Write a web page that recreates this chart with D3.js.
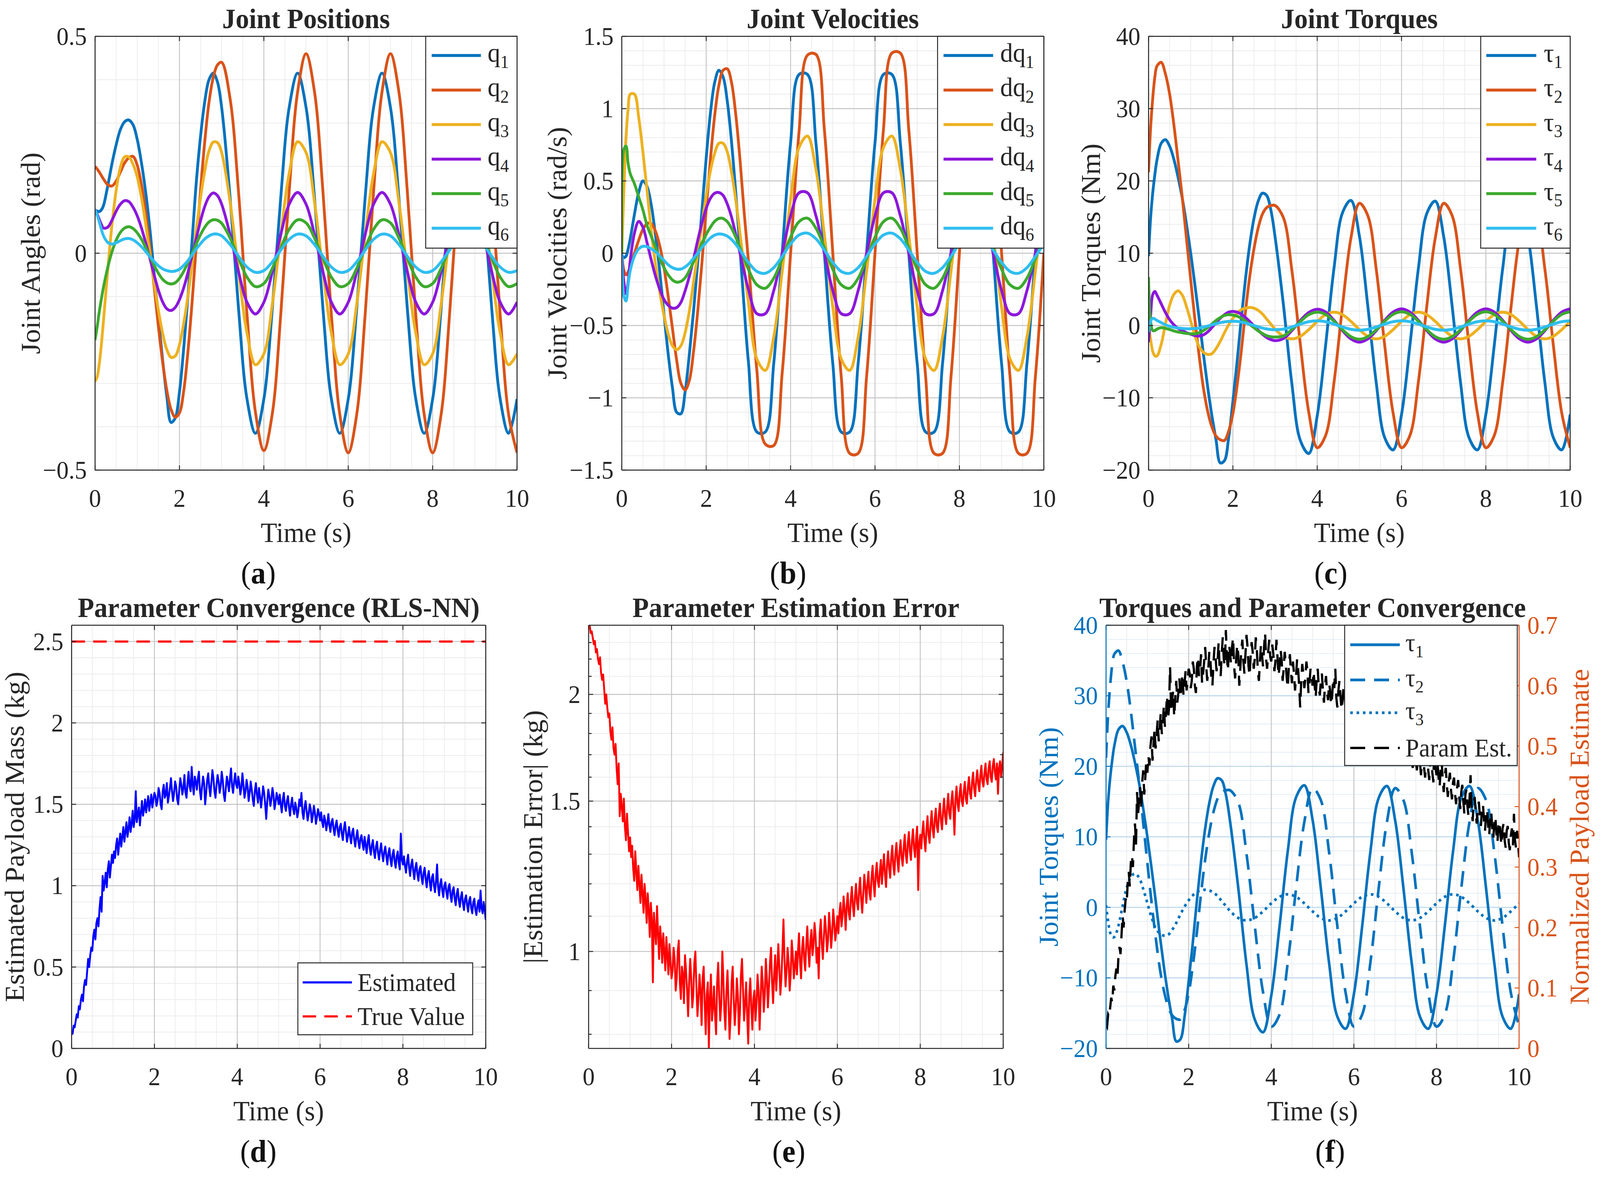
<!DOCTYPE html>
<html><head><meta charset="utf-8">
<script src="https://cdn.jsdelivr.net/npm/d3@7"></script>
<style>html,body{margin:0;padding:0;background:#fff;overflow:hidden;width:100%;height:100%}svg{display:block;width:100vw;height:100vh}</style>
</head><body>
<svg id="chart" viewBox="0 0 4292 3012" preserveAspectRatio="none"></svg>
<script>
// ---------------- DATA ----------------
const T = [0,0.05,0.1,0.15,0.2,0.3,0.4,0.5,0.6,0.7,0.8,0.9,1.0,1.1,1.2,1.3,1.4,1.5,1.6,1.7,1.8,1.9,2.0,2.1,2.2,2.3,2.4,2.5,2.6,2.7,2.8,2.9,3.0,
3.2,3.4,3.6,3.8,4.0,4.2,4.4,4.6,4.8,5.0,5.2,5.4,5.6,5.8,6.0,6.2,6.4,6.6,6.8,7.0,7.2,7.4,7.6,7.8,8.0,8.2,8.4,8.6,8.8,9.0,9.2,9.4,9.6,9.8,10.0];

const Q1 = [0.100,0.097,0.096,0.100,0.110,0.155,0.206,0.250,0.285,0.303,0.307,0.296,0.262,0.208,0.140,0.055,-0.048,-0.150,-0.245,-0.330,-0.390,-0.380,-0.320,-0.220,-0.100,0.030,0.165,0.270,0.350,0.400,0.415,0.395,0.336,
0.128,-0.128,-0.336,-0.415,-0.336,-0.128,0.128,0.336,0.415,0.336,
0.128,-0.128,-0.336,-0.415,-0.336,-0.128,0.128,0.336,0.415,0.336,
0.128,-0.128,-0.336,-0.415,-0.336,-0.128,0.128,0.336,0.415,0.336,
0.128,-0.128,-0.336,-0.415,-0.336];
const Q2 = [0.200,0.194,0.187,0.179,0.171,0.158,0.155,0.166,0.187,0.208,0.220,0.223,0.203,0.158,0.093,0.013,-0.077,-0.168,-0.250,-0.316,-0.360,-0.378,-0.368,-0.318,-0.228,-0.112,0.020,0.145,0.258,0.348,0.405,0.434,0.440,
0.356,0.141,-0.140,-0.366,-0.455,-0.370,-0.142,0.142,0.372,0.460,
0.372,0.142,-0.142,-0.372,-0.460,-0.372,-0.142,0.142,0.372,0.460,
0.372,0.142,-0.142,-0.372,-0.460,-0.372,-0.142,0.142,0.372,0.460,
0.372,0.142,-0.142,-0.372,-0.460];
const Q3 = [-0.296,-0.285,-0.255,-0.210,-0.155,-0.040,0.065,0.145,0.198,0.222,0.222,0.205,0.176,0.128,0.067,-0.001,-0.069,-0.131,-0.184,-0.222,-0.240,-0.237,-0.211,-0.162,-0.099,-0.025,0.055,0.128,0.190,0.236,0.256,0.255,0.232,
0.118,-0.041,-0.184,-0.257,-0.232,-0.118,0.041,0.184,0.257,0.232,
0.118,-0.041,-0.184,-0.257,-0.232,-0.118,0.041,0.184,0.257,0.232,
0.118,-0.041,-0.184,-0.257,-0.232,-0.118,0.041,0.184,0.257,0.232,
0.118,-0.041,-0.184,-0.257,-0.232];
const Q4 = [0.100,0.090,0.078,0.066,0.058,0.060,0.076,0.097,0.113,0.121,0.119,0.106,0.086,0.058,0.024,-0.012,-0.050,-0.085,-0.112,-0.128,-0.132,-0.125,-0.107,-0.080,-0.045,-0.005,0.035,0.075,0.108,0.130,0.139,0.133,0.113,
0.043,-0.043,-0.113,-0.140,-0.113,-0.043,0.043,0.113,0.140,0.113,
0.043,-0.043,-0.113,-0.140,-0.113,-0.043,0.043,0.113,0.140,0.113,
0.043,-0.043,-0.113,-0.140,-0.113,-0.043,0.043,0.113,0.140,0.113,
0.043,-0.043,-0.113,-0.140,-0.113];
const Q5 = [-0.200,-0.170,-0.135,-0.105,-0.078,-0.033,0.003,0.030,0.048,0.058,0.061,0.057,0.047,0.032,0.013,-0.008,-0.028,-0.046,-0.060,-0.068,-0.071,-0.068,-0.058,-0.042,-0.022,0.000,0.022,0.043,0.060,0.072,0.077,0.076,0.069,
0.035,-0.012,-0.055,-0.077,-0.070,-0.035,0.012,0.055,0.077,0.070,
0.035,-0.012,-0.055,-0.077,-0.070,-0.035,0.012,0.055,0.077,0.070,
0.035,-0.012,-0.055,-0.077,-0.070,-0.035,0.012,0.055,0.077,0.070,
0.035,-0.012,-0.055,-0.077,-0.070];
const Q6 = [0.100,0.088,0.072,0.055,0.040,0.025,0.021,0.024,0.029,0.033,0.034,0.031,0.024,0.015,0.004,-0.008,-0.019,-0.029,-0.036,-0.040,-0.042,-0.041,-0.037,-0.028,-0.017,-0.004,0.010,0.022,0.033,0.040,0.044,0.044,0.040,
0.020,-0.007,-0.032,-0.044,-0.040,-0.020,0.007,0.032,0.044,0.040,
0.020,-0.007,-0.032,-0.044,-0.040,-0.020,0.007,0.032,0.044,0.040,
0.020,-0.007,-0.032,-0.044,-0.040,-0.020,0.007,0.032,0.044,0.040,
0.020,-0.007,-0.032,-0.044,-0.040];

const DQ1 = [-0.010,-0.030,-0.020,0.030,0.100,0.270,0.420,0.500,0.460,0.330,0.120,-0.130,-0.420,-0.700,-0.930,-1.100,-1.110,-0.960,-0.700,-0.400,-0.060,0.300,0.660,0.970,1.180,1.265,1.220,1.050,0.770,0.420,0.030,-0.380,-0.750,
-1.236,-1.236,-0.764,0,0.764,1.236,1.236,0.764,0,-0.764,
-1.236,-1.236,-0.764,0,0.764,1.236,1.236,0.764,0,-0.764,
-1.236,-1.236,-0.764,0,0.764,1.236,1.236,0.764,0,-0.764,
-1.236,-1.236,-0.764,0,0.764];
const DQ2 = [0.000,-0.120,-0.150,-0.130,-0.090,0.000,0.090,0.165,0.205,0.205,0.150,0.050,-0.100,-0.300,-0.520,-0.740,-0.900,-0.945,-0.880,-0.680,-0.400,-0.060,0.300,0.650,0.950,1.160,1.265,1.275,1.180,0.960,0.650,0.280,-0.050,
-0.810,-1.320,-1.330,-0.830,0,0.840,1.370,1.375,0.855,0,
-0.855,-1.384,-1.384,-0.855,0,0.855,1.384,1.384,0.855,0,
-0.855,-1.384,-1.384,-0.855,0,0.855,1.384,1.384,0.855,0,
-0.855,-1.384,-1.384,-0.855,0];
const DQ3 = [0.000,0.450,0.800,1.000,1.100,1.100,0.940,0.700,0.430,0.150,-0.080,-0.270,-0.430,-0.560,-0.640,-0.667,-0.640,-0.550,-0.400,-0.200,0.000,0.200,0.400,0.570,0.690,0.760,0.760,0.700,0.560,0.370,0.140,-0.100,-0.340,
-0.731,-0.810,-0.580,-0.128,0.372,0.731,0.810,0.580,0.128,-0.372,
-0.731,-0.810,-0.580,-0.128,0.372,0.731,0.810,0.580,0.128,-0.372,
-0.731,-0.810,-0.580,-0.128,0.372,0.731,0.810,0.580,0.128,-0.372,
-0.731,-0.810,-0.580,-0.128,0.372];
const DQ4 = [0.000,-0.200,-0.280,-0.200,-0.050,0.140,0.220,0.180,0.070,-0.050,-0.160,-0.250,-0.320,-0.360,-0.380,-0.376,-0.340,-0.260,-0.160,-0.040,0.090,0.210,0.310,0.380,0.415,0.420,0.400,0.340,0.250,0.130,0.000,-0.130,-0.250,
-0.418,-0.418,-0.259,0,0.259,0.418,0.418,0.259,0,-0.259,
-0.418,-0.418,-0.259,0,0.259,0.418,0.418,0.259,0,-0.259,
-0.418,-0.418,-0.259,0,0.259,0.418,0.418,0.259,0,-0.259,
-0.418,-0.418,-0.259,0,0.259];
const DQ5 = [0.000,0.720,0.740,0.620,0.550,0.480,0.390,0.300,0.190,0.115,0.040,-0.040,-0.100,-0.150,-0.185,-0.200,-0.195,-0.170,-0.120,-0.060,0.000,0.070,0.130,0.180,0.220,0.240,0.240,0.218,0.173,0.111,0.038,-0.038,-0.111,
-0.218,-0.242,-0.173,-0.038,0.111,0.218,0.242,0.173,0.038,-0.111,
-0.218,-0.242,-0.173,-0.038,0.111,0.218,0.242,0.173,0.038,-0.111,
-0.218,-0.242,-0.173,-0.038,0.111,0.218,0.242,0.173,0.038,-0.111,
-0.218,-0.242,-0.173,-0.038,0.111];
const DQ6 = [0.000,-0.300,-0.330,-0.220,-0.120,-0.020,0.030,0.048,0.045,0.030,0.010,-0.020,-0.050,-0.080,-0.100,-0.110,-0.110,-0.095,-0.070,-0.035,0.000,0.040,0.075,0.105,0.125,0.133,0.130,0.118,0.095,0.062,0.022,-0.022,-0.064,
-0.126,-0.139,-0.100,-0.022,0.064,0.126,0.139,0.100,0.022,-0.064,
-0.126,-0.139,-0.100,-0.022,0.064,0.126,0.139,0.100,0.022,-0.064,
-0.126,-0.139,-0.100,-0.022,0.064,0.126,0.139,0.100,0.022,-0.064,
-0.126,-0.139,-0.100,-0.022,0.064];

const TAU1 = [9.6,15.0,18.4,20.9,22.9,25.2,25.7,24.8,23.0,20.5,17.6,14.0,10.0,5.6,1.0,-3.9,-8.4,-12.4,-15.8,-19.0,-18.7,-15.5,-10.5,-5.0,1.0,6.5,11.2,14.8,17.2,18.3,18.0,16.0,12.3,
2.8,-8.1,-15.9,-17.7,-12.5,-2.7,8.0,15.6,17.3,12.4,
2.7,-7.9,-15.5,-17.2,-12.3,-2.7,7.9,15.5,17.2,12.3,
2.7,-7.9,-15.5,-17.2,-12.3,-2.7,7.9,15.5,17.2,12.3,
2.7,-7.9,-15.5,-17.2,-12.3];
const TAU2 = [21.2,27.5,31.5,34.4,35.9,36.4,34.8,32.0,27.8,22.8,17.7,12.0,6.3,0.8,-4.2,-8.6,-11.8,-14.0,-15.3,-15.8,-15.9,-14.6,-12.2,-8.3,-3.5,2.0,6.8,10.6,13.5,15.4,16.3,16.6,16.6,
14.9,7.6,-2.6,-12.0,-16.9,-15.2,-7.8,2.7,12.1,16.9,
15.2,7.8,-2.7,-12.1,-16.9,-15.2,-7.8,2.7,12.1,16.9,
15.2,7.8,-2.7,-12.1,-16.9,-15.2,-7.8,2.7,12.1,16.9,
15.2,7.8,-2.7,-12.1,-16.9];
const TAU3 = [0.3,-2.0,-3.6,-4.2,-4.2,-2.6,0.2,2.8,4.3,4.8,4.2,2.6,0.6,-1.4,-2.9,-3.7,-4.0,-3.9,-3.2,-2.2,-1.0,0.1,1.0,1.7,2.2,2.4,2.5,2.4,2.1,1.6,0.9,0.2,-0.5,
-1.5,-1.85,-1.5,-0.57,0.57,1.5,1.85,1.5,0.57,-0.57,
-1.5,-1.85,-1.5,-0.57,0.57,1.5,1.85,1.5,0.57,-0.57,
-1.5,-1.85,-1.5,-0.57,0.57,1.5,1.85,1.5,0.57,-0.57,
-1.5,-1.85,-1.5,-0.57,0.57];
const TAU4 = [-2.3,1.5,4.3,4.7,4.2,3.0,1.8,0.8,0.1,-0.4,-0.7,-1.0,-1.2,-1.4,-1.45,-1.3,-0.9,-0.3,0.4,1.0,1.5,1.85,1.95,1.85,1.55,1.1,0.55,-0.05,-0.65,-1.2,-1.65,-1.95,-2.1,
-1.8,-0.7,0.7,1.8,2.25,
1.86,0.71,-0.71,-1.86,-2.3,-1.86,-0.71,0.71,1.86,2.3,
1.86,0.71,-0.71,-1.86,-2.3,-1.86,-0.71,0.71,1.86,2.3,
1.86,0.71,-0.71,-1.86,-2.3,-1.86,-0.71,0.71,1.86,2.3];
const TAU5 = [6.7,0.5,-0.7,-0.7,-0.5,-0.3,-0.4,-0.55,-0.75,-0.9,-1.0,-1.1,-1.15,-1.15,-1.0,-0.7,-0.3,0.2,0.7,1.1,1.4,1.5,1.45,1.3,1.0,0.6,0.15,-0.3,-0.75,-1.1,-1.4,-1.55,-1.6,
-1.45,-0.55,0.55,1.5,1.85,
1.54,0.59,-0.59,-1.54,-1.9,-1.54,-0.59,0.59,1.54,1.9,
1.54,0.59,-0.59,-1.54,-1.9,-1.54,-0.59,0.59,1.54,1.9,
1.54,0.59,-0.59,-1.54,-1.9,-1.54,-0.59,0.59,1.54,1.9];
const TAU6 = [-0.9,0.6,1.0,0.9,0.7,0.4,0.1,-0.1,-0.25,-0.35,-0.4,-0.45,-0.45,-0.42,-0.35,-0.22,-0.08,0.1,0.25,0.4,0.5,0.57,0.6,0.57,0.48,0.35,0.18,0.0,-0.18,-0.35,-0.47,-0.55,-0.58,
-0.5,-0.2,0.2,0.53,0.65,
0.53,0.2,-0.2,-0.53,-0.65,-0.53,-0.2,0.2,0.53,0.65,
0.53,0.2,-0.2,-0.53,-0.65,-0.53,-0.2,0.2,0.53,0.65,
0.53,0.2,-0.2,-0.53,-0.65,-0.53,-0.2,0.2,0.53,0.65];

// estimated payload mass (kg), one sample every 0.025 s from 0 to 10 s
const EST_DT = 0.025;
const EST = [
0.10,0.09,0.14,0.13,0.17,0.21,0.19,0.26,0.24,0.30,0.33,0.29,0.38,0.42,0.39,0.47,0.55,0.50,0.57,0.62,0.60,0.69,0.73,0.67,0.77,0.80,0.75,0.86,0.93,0.84,1.06,0.97,1.02,1.08,0.99,1.10,1.15,1.05,1.12,1.19,1.14,
1.21,1.17,1.25,1.29,1.19,1.26,1.32,1.24,1.30,1.36,1.27,1.33,1.39,1.30,1.35,1.42,1.33,1.38,1.46,1.36,1.41,1.58,1.39,1.44,1.48,1.37,1.45,1.52,1.43,1.47,1.53,1.45,1.50,1.55,1.46,1.51,1.56,1.48,1.53,1.57,
1.55,1.49,1.52,1.60,1.57,1.50,1.47,1.58,1.62,1.54,1.56,1.63,1.51,1.55,1.60,1.66,1.58,1.52,1.57,1.64,1.61,1.53,1.50,1.59,1.66,1.62,1.56,1.60,1.68,1.57,1.54,1.63,1.70,1.61,1.58,1.73,1.62,1.56,1.67,1.64,
1.59,1.66,1.70,1.58,1.53,1.61,1.67,1.63,1.50,1.57,1.65,1.69,1.60,1.55,1.63,1.71,1.66,1.58,1.54,1.62,1.68,1.64,1.57,1.61,1.70,1.65,1.56,1.52,1.60,1.67,1.63,1.58,1.66,1.72,1.61,1.57,1.64,1.69,1.62,1.60,
1.67,1.63,1.56,1.60,1.69,1.62,1.54,1.58,1.65,1.61,1.52,1.57,1.64,1.59,1.53,1.49,1.58,1.63,1.56,1.51,1.60,1.55,1.48,1.54,1.61,1.57,1.50,1.41,1.52,1.59,1.55,1.49,1.53,1.60,1.56,1.47,1.51,1.57,1.54,1.50,
1.56,1.50,1.45,1.53,1.57,1.49,1.46,1.52,1.55,1.48,1.43,1.50,1.54,1.47,1.44,1.51,1.48,1.42,1.46,1.53,1.49,1.57,1.45,1.41,1.48,1.52,1.46,1.40,1.44,1.50,1.47,1.39,1.43,1.49,1.45,1.38,1.42,1.47,1.44,1.40,
1.45,1.39,1.36,1.43,1.40,1.34,1.38,1.44,1.37,1.33,1.39,1.41,1.35,1.31,1.37,1.40,1.34,1.30,1.36,1.38,1.32,1.28,1.35,1.39,1.33,1.27,1.31,1.36,1.30,1.26,1.33,1.35,1.28,1.24,1.30,1.34,1.27,1.23,1.29,1.31,
1.26,1.22,1.30,1.25,1.20,1.27,1.31,1.23,1.19,1.25,1.28,1.21,1.17,1.24,1.27,1.20,1.16,1.22,1.26,1.19,1.15,1.21,1.24,1.18,1.13,1.20,1.23,1.16,1.12,1.19,1.22,1.15,1.11,1.18,1.21,1.14,1.10,1.32,1.16,1.13,
1.18,1.12,1.08,1.15,1.19,1.11,1.06,1.13,1.16,1.09,1.04,1.11,1.14,1.07,1.03,1.10,1.12,1.05,1.01,1.08,1.11,1.04,0.99,1.06,1.09,1.02,0.97,1.05,1.07,1.00,0.96,1.03,1.13,0.99,0.94,1.01,1.04,0.97,0.93,1.00,
1.02,0.96,0.92,0.99,1.01,0.94,0.90,0.97,0.99,0.92,0.88,0.95,0.98,0.91,0.87,0.93,0.96,0.89,0.85,0.92,0.94,0.88,0.84,0.91,0.93,0.86,0.83,0.90,0.92,0.85,0.82,0.88,0.91,0.84,0.97,0.86,0.83,0.90,0.85,0.79];
const TRUE_MASS = 2.5;

const X_TICKS = [0, 2, 4, 6, 8, 10];
const YT_A = [-0.5, 0, 0.5];
const YT_B = [-1.5, -1, -0.5, 0, 0.5, 1, 1.5];
const YT_C = [-20, -10, 0, 10, 20, 30, 40];
const YT_D = [0, 0.5, 1, 1.5, 2, 2.5];
const YT_E = [1, 1.5, 2];
const YT_E_MINOR = [0.8, 0.9, 1.1, 1.2, 1.3, 1.4, 1.6, 1.7, 1.8, 1.9, 2.1, 2.2, 2.3];
const YT_F_LEFT = [-20, -10, 0, 10, 20, 30, 40];
const YT_F_RIGHT = [0, 0.1, 0.2, 0.3, 0.4, 0.5, 0.6, 0.7];

const COLORS = ['#0072BD', '#D95319', '#EDB120', '#8C17DB', '#3CAA2E', '#2FBEF0'];
const SUBS = ['1', '2', '3', '4', '5', '6'];

// ---------------- DRAWING ----------------
const FONT = "'Liberation Serif','Times New Roman',serif";
const INK = '#262626';
const BLUE = '#0072BD', ORANGE = '#D95319';
const LW = 7.5;
const svg = d3.select('#chart').attr('font-family', FONT);
svg.append('rect').attr('width', 4292).attr('height', 3012).attr('fill', '#fff');
const defs = svg.append('defs');
const fmt = d3.format('');

function minorVals(lo, hi, step, major) {
  return d3.range(Math.round(lo / step), Math.round(hi / step) + 1)
    .map(k => +(k * step).toFixed(6))
    .filter(v => Math.abs(v / major - Math.round(v / major)) > 1e-6);
}
const X_MINOR = minorVals(0, 10, 0.5, 2);

function panel(o) {
  const x = d3.scaleLinear().domain([0, 10]).range([o.L, o.R]);
  const y = o.y.range([o.B, o.T]);
  const g = svg.append('g');
  const cid = 'clip_' + o.id;
  defs.append('clipPath').attr('id', cid).append('rect')
    .attr('x', o.L).attr('y', o.T).attr('width', o.R - o.L).attr('height', o.B - o.T);
  const hMinor = o.hMinorColor || '#ececec', hMajor = o.hMajorColor || '#c4c4c4';
  g.selectAll(null).data(X_MINOR).join('line')
    .attr('x1', d => x(d)).attr('x2', d => x(d)).attr('y1', o.T).attr('y2', o.B)
    .attr('stroke', '#ececec').attr('stroke-width', 2);
  g.selectAll(null).data(o.yMinor).join('line')
    .attr('x1', o.L).attr('x2', o.R).attr('y1', d => y(d)).attr('y2', d => y(d))
    .attr('stroke', hMinor).attr('stroke-width', 2);
  g.selectAll(null).data(X_TICKS).join('line')
    .attr('x1', d => x(d)).attr('x2', d => x(d)).attr('y1', o.T).attr('y2', o.B)
    .attr('stroke', '#c4c4c4').attr('stroke-width', 2.4);
  g.selectAll(null).data(o.yTicks).join('line')
    .attr('x1', o.L).attr('x2', o.R).attr('y1', d => y(d)).attr('y2', d => y(d))
    .attr('stroke', hMajor).attr('stroke-width', 2.4);
  const data = svg.append('g').attr('clip-path', `url(#${cid})`);
  return { x, y, g, data, o };
}

function frame(p, opt = {}) {
  const { x, y, o } = p;
  const g = svg.append('g');
  const leftC = opt.leftColor || INK, rightC = opt.rightColor || INK;
  const TL = 12;
  X_TICKS.forEach(d => {
    g.append('line').attr('x1', x(d)).attr('x2', x(d)).attr('y1', o.B).attr('y2', o.B - TL).attr('stroke', INK).attr('stroke-width', 2.4);
    g.append('line').attr('x1', x(d)).attr('x2', x(d)).attr('y1', o.T).attr('y2', o.T + TL).attr('stroke', INK).attr('stroke-width', 2.4);
  });
  const yTickSet = o.yTicks.concat(o.yMinorTicks || []);
  yTickSet.forEach(d => {
    const len = o.yTicks.includes(d) ? TL : 8;
    g.append('line').attr('x1', o.L).attr('x2', o.L + len).attr('y1', y(d)).attr('y2', y(d)).attr('stroke', leftC).attr('stroke-width', 2.4);
    if (!opt.noRightTicks)
      g.append('line').attr('x1', o.R).attr('x2', o.R - len).attr('y1', y(d)).attr('y2', y(d)).attr('stroke', INK).attr('stroke-width', 2.4);
  });
  g.append('line').attr('x1', o.L).attr('x2', o.R).attr('y1', o.T).attr('y2', o.T).attr('stroke', INK).attr('stroke-width', 2.6);
  g.append('line').attr('x1', o.L).attr('x2', o.R).attr('y1', o.B).attr('y2', o.B).attr('stroke', INK).attr('stroke-width', 2.6);
  g.append('line').attr('x1', o.L).attr('x2', o.L).attr('y1', o.T).attr('y2', o.B).attr('stroke', leftC).attr('stroke-width', 2.6);
  g.append('line').attr('x1', o.R).attr('x2', o.R).attr('y1', o.T).attr('y2', o.B).attr('stroke', rightC).attr('stroke-width', 2.6);
  g.selectAll(null).data(X_TICKS).join('text')
    .attr('x', d => x(d)).attr('y', o.B + 94).attr('text-anchor', 'middle')
    .attr('font-size', 65).attr('fill', INK).text(d => fmt(d));
  g.selectAll(null).data(o.yTicks).join('text')
    .attr('x', o.L - 22).attr('y', d => y(d) + 22).attr('text-anchor', 'end')
    .attr('font-size', 65).attr('fill', leftC).text(d => fmt(d));
  g.append('text').attr('x', (o.L + o.R) / 2).attr('y', o.T - 21).attr('text-anchor', 'middle')
    .attr('font-size', 72).attr('font-weight', 'bold').attr('fill', INK).text(o.title);
  g.append('text').attr('x', (o.L + o.R) / 2).attr('y', o.B + 184).attr('text-anchor', 'middle')
    .attr('font-size', 72).attr('fill', INK).text('Time (s)');
  g.append('text').attr('transform', `translate(${o.ylabelX},${(o.T + o.B) / 2}) rotate(-90)`)
    .attr('text-anchor', 'middle').attr('dy', '0.33em')
    .attr('font-size', 72).attr('fill', leftC).text(o.ylabel);
  const st = g.append('text').attr('x', o.letterX).attr('y', o.B + 290).attr('text-anchor', 'middle')
    .attr('font-size', 80).attr('fill', '#111');
  st.append('tspan').text('(');
  st.append('tspan').attr('font-weight', 'bold').text(o.letter);
  st.append('tspan').text(')');
  return g;
}

function legend(o) {
  const g = svg.append('g');
  g.append('rect').attr('x', o.box[0]).attr('y', o.box[1])
    .attr('width', o.box[2] - o.box[0]).attr('height', o.box[3] - o.box[1])
    .attr('fill', '#fff').attr('stroke', INK).attr('stroke-width', 2.5);
  o.items.forEach((it, i) => {
    const yy = o.rows[i];
    g.append('line').attr('x1', o.lineX[0]).attr('x2', o.lineX[1]).attr('y1', yy).attr('y2', yy)
      .attr('stroke', it.color).attr('stroke-width', it.width).attr('stroke-dasharray', it.dash || null);
    const t = g.append('text').attr('x', o.textX).attr('y', yy + (it.sub ? 16 : 22))
      .attr('font-size', o.fs).attr('fill', INK);
    t.append('tspan').text(it.base);
    if (it.sub) t.append('tspan').attr('font-size', o.fs * 0.68).attr('dy', o.fs * 0.24).text(it.sub);
  });
}

const smooth = d3.curveCatmullRom.alpha(0.5);
function drawSeries(p, ys, color, width, dash, yScale) {
  const yy = yScale || p.y;
  const line = d3.line().x(d => p.x(d[0])).y(d => yy(d[1])).curve(smooth);
  p.data.append('path').datum(d3.zip(T, ys)).attr('d', line)
    .attr('fill', 'none').attr('stroke', color).attr('stroke-width', width)
    .attr('stroke-linejoin', 'round').attr('stroke-dasharray', dash || null);
}

const TOP1 = 93, BOT1 = 1203, TOP2 = 1600, BOT2 = 2683;
const topRows = d3.range(6).map(i => 142 + i * 88.4);

// ---- (a) Joint Positions
const pa = panel({ id: 'a', L: 255, R: 1387, T: TOP1, B: BOT1, y: d3.scaleLinear().domain([-0.5, 0.5]),
  yTicks: YT_A, yMinor: minorVals(-0.5, 0.5, 0.1, 0.5),
  title: 'Joint Positions', ylabel: 'Joint Angles (rad)', ylabelX: 83, letter: 'a', letterX: 693 });
[Q1, Q2, Q3, Q4, Q5, Q6].forEach((s, i) => drawSeries(pa, s, COLORS[i], LW));
frame(pa);
legend({ box: [1142, TOP1, 1387, 635], rows: topRows, lineX: [1158, 1290], textX: 1308, fs: 68,
  items: SUBS.map((s, i) => ({ base: 'q', sub: s, color: COLORS[i], width: LW })) });

// ---- (b) Joint Velocities
const pb = panel({ id: 'b', L: 1668, R: 2800, T: TOP1, B: BOT1, y: d3.scaleLinear().domain([-1.5, 1.5]),
  yTicks: YT_B, yMinor: minorVals(-1.5, 1.5, 0.1, 0.5),
  title: 'Joint Velocities', ylabel: 'Joint Velocities (rad/s)', ylabelX: 1496, letter: 'b', letterX: 2114 });
[DQ1, DQ2, DQ3, DQ4, DQ5, DQ6].forEach((s, i) => drawSeries(pb, s, COLORS[i], LW));
frame(pb);
legend({ box: [2515, TOP1, 2800, 635], rows: topRows, lineX: [2531, 2664], textX: 2683, fs: 68,
  items: SUBS.map((s, i) => ({ base: 'dq', sub: s, color: COLORS[i], width: LW })) });

// ---- (c) Joint Torques
const pc = panel({ id: 'c', L: 3081, R: 4212, T: TOP1, B: BOT1, y: d3.scaleLinear().domain([-20, 40]),
  yTicks: YT_C, yMinor: minorVals(-20, 40, 2, 10),
  title: 'Joint Torques', ylabel: 'Joint Torques (Nm)', ylabelX: 2927, letter: 'c', letterX: 3570 });
[TAU1, TAU2, TAU3, TAU4, TAU5, TAU6].forEach((s, i) => drawSeries(pc, s, COLORS[i], LW));
frame(pc);
legend({ box: [3972, TOP1, 4212, 635], rows: topRows, lineX: [3987, 4121], textX: 4141, fs: 68,
  items: SUBS.map((s, i) => ({ base: '\u03C4', sub: s, color: COLORS[i], width: LW })) });

// ---- (d) Parameter Convergence
const estPts = EST.map((v, i) => [i * EST_DT, v]);
const pd = panel({ id: 'd', L: 192, R: 1303, T: TOP2, B: BOT2, y: d3.scaleLinear().domain([0, 2.6]),
  yTicks: YT_D, yMinor: minorVals(0, 2.6, 0.1, 0.5),
  title: 'Parameter Convergence (RLS-NN)', ylabel: 'Estimated Payload Mass (kg)', ylabelX: 40, letter: 'd', letterX: 693 });
pd.data.append('path').datum(estPts)
  .attr('d', d3.line().x(d => pd.x(d[0])).y(d => pd.y(d[1])))
  .attr('fill', 'none').attr('stroke', '#0000FF').attr('stroke-width', 5).attr('stroke-linejoin', 'round');
pd.data.append('path').datum([[0, TRUE_MASS], [10, TRUE_MASS]])
  .attr('d', d3.line().x(d => pd.x(d[0])).y(d => pd.y(d[1])))
  .attr('fill', 'none').attr('stroke', '#FF0000').attr('stroke-width', 5.5).attr('stroke-dasharray', '36,22');
frame(pd);
legend({ box: [799, 2464, 1268, 2648], rows: [2514, 2601], lineX: [812, 944], textX: 959, fs: 66,
  items: [{ base: 'Estimated', color: '#0000FF', width: 5.5 }, { base: 'True Value', color: '#FF0000', width: 5.5, dash: '36,22' }] });

// ---- (e) Parameter Estimation Error (log y)
const errPts = EST.map((v, i) => [i * EST_DT, Math.abs(TRUE_MASS - v)]);
const pe = panel({ id: 'e', L: 1579, R: 2691, T: TOP2, B: BOT2, y: d3.scaleLog().domain(d3.extent(errPts, d => d[1])),
  yTicks: YT_E, yMinor: YT_E_MINOR, yMinorTicks: YT_E_MINOR,
  title: 'Parameter Estimation Error', ylabel: '|Estimation Error| (kg)', ylabelX: 1431, letter: 'e', letterX: 2116 });
pe.data.append('path').datum(errPts)
  .attr('d', d3.line().x(d => pe.x(d[0])).y(d => pe.y(d[1])))
  .attr('fill', 'none').attr('stroke', '#FF0000').attr('stroke-width', 5).attr('stroke-linejoin', 'round');
frame(pe);

// ---- (f) Torques and Parameter Convergence (two y axes)
const pf = panel({ id: 'f', L: 2967, R: 4075, T: TOP2, B: BOT2, y: d3.scaleLinear().domain([-20, 40]),
  yTicks: YT_F_LEFT, yMinor: minorVals(-20, 40, 2, 10), hMinorColor: '#e4eef7', hMajorColor: '#b9d5ec',
  title: 'Torques and Parameter Convergence', ylabel: 'Joint Torques (Nm)', ylabelX: 2814, letter: 'f', letterX: 3568 });
const yR = d3.scaleLinear().domain([0, 0.7]).range([BOT2, TOP2]);
drawSeries(pf, TAU1, BLUE, 7);
drawSeries(pf, TAU2, BLUE, 7, '40,24');
drawSeries(pf, TAU3, BLUE, 7, '7,10');
pf.data.append('path').datum(EST.map((v, i) => [i * EST_DT, v / TRUE_MASS]))
  .attr('d', d3.line().x(d => pf.x(d[0])).y(d => yR(d[1])))
  .attr('fill', 'none').attr('stroke', '#000').attr('stroke-width', 6).attr('stroke-dasharray', '40,24');
frame(pf, { leftColor: BLUE, rightColor: ORANGE, noRightTicks: true });
const gr = svg.append('g');
YT_F_RIGHT.forEach(d => {
  gr.append('line').attr('x1', 4075).attr('x2', 4075 - 12).attr('y1', yR(d)).attr('y2', yR(d)).attr('stroke', ORANGE).attr('stroke-width', 2.4);
  gr.append('text').attr('x', 4075 + 22).attr('y', yR(d) + 22).attr('font-size', 65).attr('fill', ORANGE).text(fmt(d));
});
gr.append('text').attr('transform', `translate(4238,${(TOP2 + BOT2) / 2}) rotate(-90)`)
  .attr('text-anchor', 'middle').attr('dy', '0.33em').attr('font-size', 72).attr('fill', ORANGE)
  .text('Normalized Payload Estimate');
legend({ box: [3607, TOP2, 4070, 1959], rows: [1650, 1740, 1824, 1914], lineX: [3622, 3755], textX: 3770, fs: 66,
  items: [
    { base: '\u03C4', sub: '1', color: BLUE, width: 7 },
    { base: '\u03C4', sub: '2', color: BLUE, width: 7, dash: '40,24' },
    { base: '\u03C4', sub: '3', color: BLUE, width: 7, dash: '7,10' },
    { base: 'Param Est.', color: '#000', width: 6, dash: '40,24' }
  ] });
</script>
</body></html>
